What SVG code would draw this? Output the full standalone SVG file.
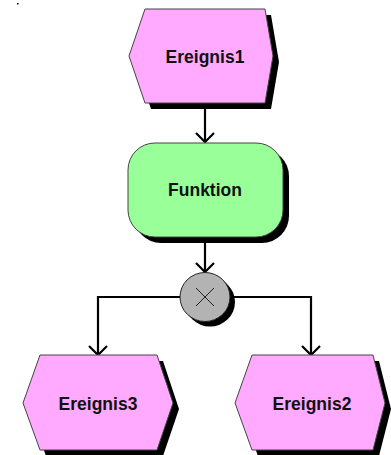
<svg xmlns="http://www.w3.org/2000/svg" width="391" height="455" viewBox="0 0 391 455">
<defs>
<style>
.ev{fill:#ffaaff;stroke:#444;stroke-width:1}
.fn{fill:#99ff99;stroke:#444;stroke-width:1}
.gw{fill:#b3b3b3;stroke:#222;stroke-width:1}
.sh{fill:#000}
.lbl{font-family:"Liberation Sans",Arial,sans-serif;font-weight:bold;font-size:17.5px;fill:#111;text-anchor:middle;dominant-baseline:central}
.con{fill:none;stroke:#000;stroke-width:2.2}
</style>
<marker id="arr" viewBox="0 0 11 22" refX="10" refY="11" markerWidth="11" markerHeight="22" markerUnits="userSpaceOnUse" orient="auto">
<path d="M1,2 L10,11 L1,20" fill="none" stroke="#000" stroke-width="2.2"/>
</marker>
</defs>
<rect x="17" y="3" width="1.5" height="1.5" fill="#000"/>
<g id="connectors">
<path class="con" d="M205,103 V142" marker-end="url(#arr)"/>
<path class="con" d="M205,237 V272" marker-end="url(#arr)"/>
<path class="con" d="M180,297 H98 V355" marker-end="url(#arr)"/>
<path class="con" d="M231,297 H311 V355" marker-end="url(#arr)"/>
</g>
<g id="ereignis1">
<polygon class="sh" points="151,15 271,15 279,62 271,109 151,109 135,62"/>
<polygon class="ev" points="145,9 265,9 273,56 265,103 145,103 129,56"/>
<text class="lbl" x="205" y="57">Ereignis1</text>
</g>
<g id="funktion">
<rect class="sh" x="134" y="149" width="155" height="94" rx="27"/>
<rect class="fn" x="128" y="143" width="155" height="94" rx="27"/>
<text class="lbl" x="205" y="190">Funktion</text>
</g>
<g id="xor">
<ellipse class="sh" cx="210" cy="302" rx="25" ry="24.5"/>
<ellipse class="gw" cx="205" cy="297" rx="25" ry="24.5"/>
<path d="M196,288 L214,306 M214,288 L196,306" stroke="#222" stroke-width="1" fill="none"/>
</g>
<g id="ereignis3">
<polygon class="sh" points="46,361 163,361 179,409 163,456 46,456 29,409"/>
<polygon class="ev" points="40,355 157,355 173,403 157,450 40,450 23,403"/>
<text class="lbl" x="98" y="404">Ereignis3</text>
</g>
<g id="ereignis2">
<polygon class="sh" points="258,361 379,361 391,409 379,456 258,456 241,409"/>
<polygon class="ev" points="252,355 373,355 385,403 373,450 252,450 235,403"/>
<text class="lbl" x="312" y="404">Ereignis2</text>
</g>
</svg>
